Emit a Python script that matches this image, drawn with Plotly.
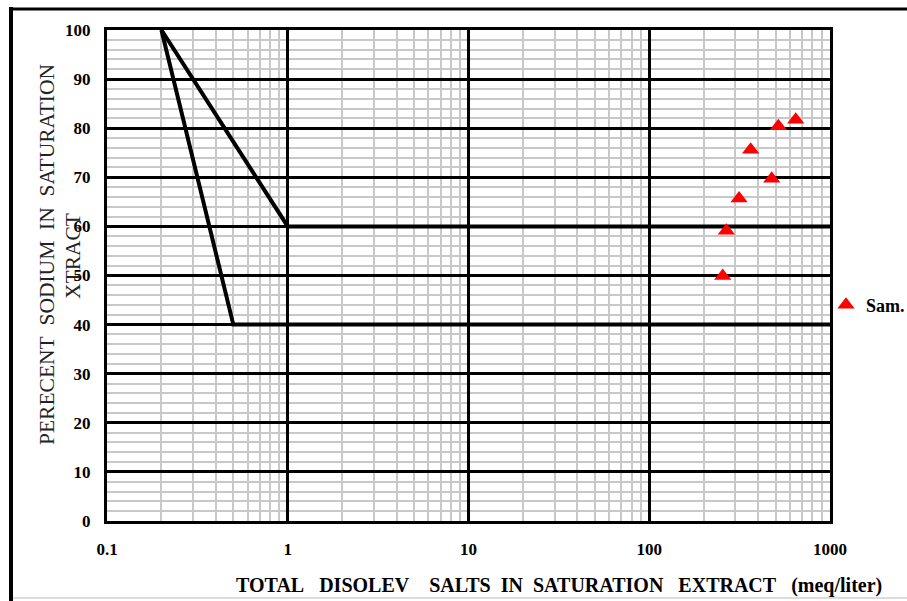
import plotly.graph_objects as go

# Sample data (TDS meq/l, percent sodium)
sample_tds = [646, 518, 364, 476, 314, 267, 255]
sample_na = [81.7, 80.4, 75.6, 69.7, 65.7, 59.1, 49.9]

# Boundary lines of the diagram
line_a_x = [0.2, 1, 1000]
line_a_y = [100, 60, 60]
line_b_x = [0.2, 0.5, 1000]
line_b_y = [100, 40, 40]

x_major = [0.1, 1, 10, 100, 1000]
x_major_text = ["0.1", "1", "10", "100", "1000"]
x_minor = [m * d for d in [0.1, 1, 10, 100] for m in range(2, 10)]

FONT = "Liberation Serif, Times New Roman, serif"
NB = "\u00a0"

fig = go.Figure()
fig.add_trace(go.Scatter(x=line_a_x, y=line_a_y, mode="lines",
                         line=dict(color="black", width=4), showlegend=False, hoverinfo="skip"))
fig.add_trace(go.Scatter(x=line_b_x, y=line_b_y, mode="lines",
                         line=dict(color="black", width=4), showlegend=False, hoverinfo="skip"))
fig.add_trace(go.Scatter(x=sample_tds, y=sample_na, mode="markers", name="Sam.",
                         marker=dict(symbol="triangle-up", color="#ff0000", size=15,
                                     line=dict(width=0))))

fig.update_xaxes(type="log", range=[-1, 3], tickmode="array", tickvals=x_major,
                 ticktext=x_major_text, showgrid=True, gridcolor="black", gridwidth=3,
                 minor=dict(tickmode="array", tickvals=x_minor, showgrid=True,
                            gridcolor="#c8c8c8", gridwidth=2, ticks=""),
                 showline=True, linecolor="black", linewidth=3, mirror=True,
                 ticks="", zeroline=False,
                 tickfont=dict(family=FONT, size=17, color="black", weight="bold"),
                 ticklabelstandoff=11)
fig.update_yaxes(range=[0, 100], dtick=10, showgrid=True, gridcolor="black", gridwidth=3,
                 minor=dict(dtick=2, showgrid=True, gridcolor="#c8c8c8", gridwidth=2, ticks=""),
                 showline=True, linecolor="black", linewidth=3, mirror=True,
                 ticks="", zeroline=False,
                 tickfont=dict(family=FONT, size=17, color="black", weight="bold"),
                 ticklabelstandoff=10)

px_l, px_r, px_t, px_b = 107, 830, 30, 521
W, H = px_r - px_l, px_b - px_t

def xp(px):
    return (px - px_l) / W

def yp(py):
    return (px_b - py) / H

fig.add_annotation(text="PERECENT" + NB * 2 + "SODIUM" + NB * 2 + "IN" + NB * 2 + "SATURATION",
                   xref="paper", yref="paper", x=xp(47), y=yp(254), textangle=-90,
                   xanchor="center", yanchor="middle",
                   showarrow=False, font=dict(family=FONT, size=21.5, color="#222"))
fig.add_annotation(text="XTRACT", xref="paper", yref="paper", x=xp(73), y=yp(256),
                   xanchor="center", yanchor="middle",
                   textangle=-90, showarrow=False, font=dict(family=FONT, size=21.5, color="#222"))
fig.add_annotation(text=("TOTAL" + NB * 3 + "DISOLEV" + NB * 4 + "SALTS" + NB * 2 + "IN" + NB * 2 +
                         "SATURATION" + NB * 3 + "EXTRACT" + NB * 3 + "(meq/liter)"),
                   xref="paper", yref="paper", x=xp(559), y=yp(585), showarrow=False,
                   xanchor="center", yanchor="middle",
                   font=dict(family=FONT, size=20, color="black", weight="bold"))

# outer frame
fig.add_shape(type="line", xref="paper", yref="paper", x0=xp(11), x1=xp(11), y0=yp(7), y1=yp(605),
              line=dict(color="black", width=4))
fig.add_shape(type="line", xref="paper", yref="paper", x0=xp(9), x1=xp(912), y0=yp(9), y1=yp(9),
              line=dict(color="black", width=3))
fig.add_shape(type="line", xref="paper", yref="paper", x0=xp(13), x1=xp(912), y0=yp(598), y1=yp(598),
              line=dict(color="#d0d0d0", width=1.5))

fig.update_layout(width=907, height=601,
                  margin=dict(l=px_l, r=907 - px_r, t=px_t, b=601 - px_b, autoexpand=False),
                  paper_bgcolor="white", plot_bgcolor="white",
                  showlegend=True,
                  legend=dict(x=xp(826), y=yp(305), xanchor="left", yanchor="middle",
                              bgcolor="rgba(0,0,0,0)", itemwidth=30,
                              font=dict(family=FONT, size=18, color="black", weight="bold")))

fig.write_html("out.html", config={"displayModeBar": False},
               post_script="document.body.style.margin='0';document.body.style.padding='0';")
